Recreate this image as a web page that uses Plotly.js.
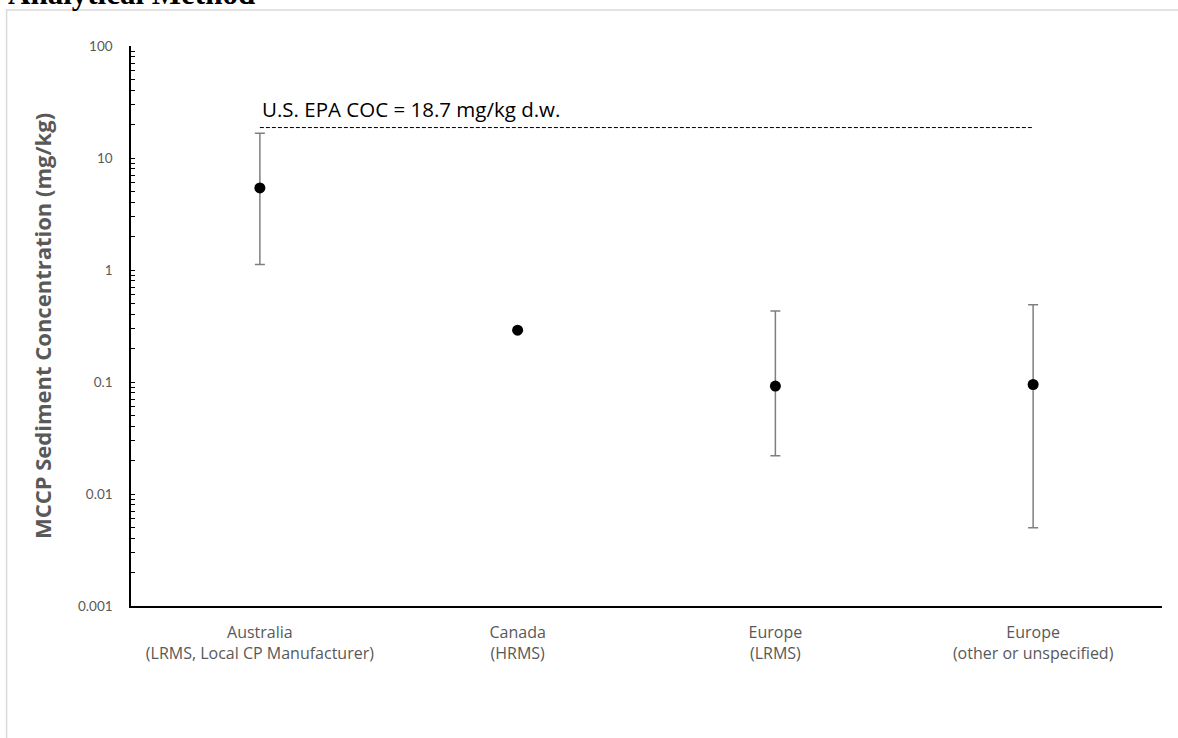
<!DOCTYPE html>
<html>
<head>
<meta charset="utf-8">
<script src="https://cdn.plot.ly/plotly-3.0.1.min.js"></script>
<style>
  html, body { margin: 0; padding: 0; background: #fff; }
  #chart { width: 1178px; height: 738px; }
</style>
</head>
<body>
<div id="chart"></div>
<script>
// Sample regions / analytical methods
const categories = [
  'Australia<br>(LRMS, Local CP Manufacturer)',
  'Canada<br>(HRMS)',
  'Europe<br>(LRMS)',
  'Europe<br>(other or unspecified)'
];

// Central MCCP sediment concentrations (mg/kg)
const centralValues = [5.4, 0.29, 0.092, 0.095];
// Range bounds (null where only a single value is reported)
const upperValues = [16.6, null, 0.43, 0.49];
const lowerValues = [1.12, null, 0.022, 0.005];

// U.S. EPA concentration of concern (mg/kg d.w.)
const cocValue = 18.7;
const cocLabel = 'U.S. EPA COC = 18.7 mg/kg d.w.';

const yTickVals = [0.001, 0.01, 0.1, 1, 10, 100];
const yTickText = ['0.001', '0.01', '0.1', '1', '10', '100'];

const errPlus = centralValues.map((v, i) => upperValues[i] == null ? null : upperValues[i] - v);
const errMinus = centralValues.map((v, i) => lowerValues[i] == null ? null : v - lowerValues[i]);

const trace = {
  type: 'scatter',
  mode: 'markers',
  x: categories,
  y: centralValues,
  marker: { color: '#000000', size: 11 },
  error_y: {
    type: 'data',
    symmetric: false,
    array: errPlus,
    arrayminus: errMinus,
    color: '#7f7f7f',
    thickness: 1.5,
    width: 5
  },
  hoverinfo: 'x+y',
  showlegend: false
};

const layout = {
  width: 1178,
  height: 738,
  margin: { l: 131, r: 16, t: 46, b: 132 },
  paper_bgcolor: '#ffffff',
  plot_bgcolor: '#ffffff',
  showlegend: false,
  xaxis: {
    type: 'category',
    categoryorder: 'array',
    categoryarray: categories,
    range: [-0.5, 3.5],
    showline: true,
    linecolor: '#000000',
    linewidth: 1.5,
    showgrid: false,
    zeroline: false,
    ticks: '',
    tickfont: { family: '"Open Sans", Lato, sans-serif', size: 16, color: '#595959' },
    ticklabelstandoff: 11
  },
  yaxis: {
    type: 'log',
    range: [-3, 2],
    tickmode: 'array',
    tickvals: yTickVals,
    ticktext: yTickText,
    ticks: 'inside',
    ticklen: 4,
    tickwidth: 1,
    tickcolor: '#000000',
    minor: { dtick: 'D1', ticks: 'inside', ticklen: 4, tickwidth: 1, tickcolor: '#000000', showgrid: false },
    showline: true,
    linecolor: '#000000',
    linewidth: 1.5,
    showgrid: false,
    zeroline: false,
    tickfont: { family: 'Lato, "Open Sans", sans-serif', size: 13.5, color: '#595959' },
    ticklabelstandoff: 14,
    title: {
      text: '<b>MCCP Sediment Concentration (mg/kg)</b>',
      font: { family: '"Open Sans", Lato, sans-serif', size: 22, color: '#595959' },
      standoff: 20
    }
  },
  shapes: [
    // outer frame of the chart area
    {
      type: 'rect', xref: 'paper', yref: 'paper',
      x0: -0.1207, x1: 1.2, y0: -0.4, y1: 1.0643,
      line: { color: '#d9d9d9', width: 1.5 },
      fillcolor: 'rgba(0,0,0,0)',
      layer: 'below'
    },
    // concentration-of-concern reference line
    {
      type: 'line', xref: 'x', yref: 'y',
      x0: categories[0], x1: categories[3],
      y0: cocValue, y1: cocValue,
      line: { color: '#000000', width: 1, dash: '4px,2px' }
    }
  ],
  annotations: [
    {
      text: cocLabel,
      xref: 'x', yref: 'y',
      x: categories[0], y: Math.log10(cocValue),
      xanchor: 'left', yanchor: 'bottom',
      xshift: 0, yshift: 3,
      showarrow: false,
      font: { family: '"Open Sans", Lato, sans-serif', size: 20.5, color: '#000000' }
    },
    {
      text: '<b>Analytical Method</b>',
      xref: 'paper', yref: 'paper',
      x: -0.1215, y: 1.094,
      xanchor: 'left', yanchor: 'middle',
      showarrow: false,
      font: { family: '"Liberation Serif", "DejaVu Serif", serif', size: 31, color: '#000000' }
    }
  ]
};

Plotly.newPlot('chart', [trace], layout, { displayModeBar: false, responsive: false });
</script>
</body>
</html>
